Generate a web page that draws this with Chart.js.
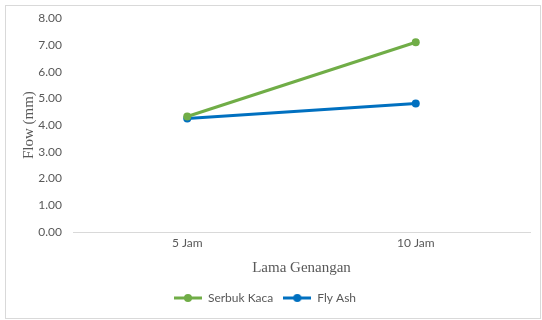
<!DOCTYPE html>
<html>
<head>
<meta charset="utf-8">
<script src="https://cdn.jsdelivr.net/npm/chart.js@4/dist/chart.umd.min.js"></script>
<style>
  html, body { margin: 0; padding: 0; background: #fff; }
  #wrap { width: 542px; height: 320px; }
</style>
</head>
<body>
<div id="wrap"><canvas id="chart" width="542" height="320"></canvas></div>
<script>
var categories = ['5 Jam', '10 Jam'];
var serbukKaca = [4.32, 7.10];
var flyAsh = [4.25, 4.81];
var yTicks = [0, 1, 2, 3, 4, 5, 6, 7, 8];

var GREEN = '#70ad47';
var BLUE = '#0070c0';
var TEXT = '#595959';

// little line-with-dot swatch for the legend
function swatch(color) {
    var c = document.createElement('canvas');
    c.width = 28;
    c.height = 10;
    var g = c.getContext('2d');
    g.strokeStyle = color;
    g.lineWidth = 3;
    g.beginPath();
    g.moveTo(0, 5);
    g.lineTo(28, 5);
    g.stroke();
    g.fillStyle = color;
    g.beginPath();
    g.arc(14, 5, 4, 0, Math.PI * 2);
    g.fill();
    return c;
}

var frame = {
    id: 'frame',
    beforeDraw: function(chart) {
        var ctx = chart.ctx;
        ctx.save();
        ctx.fillStyle = '#fff';
        ctx.fillRect(0, 0, chart.width, chart.height);
        ctx.strokeStyle = '#d9d9d9';
        ctx.lineWidth = 1;
        ctx.strokeRect(5.5, 5.5, 535, 313);
        ctx.restore();
    }
};

var ctx = document.getElementById('chart').getContext('2d');
var myChart = new Chart(ctx, {
    type: 'line',
    data: {
        labels: categories,
        datasets: [
            {
                label: 'Serbuk Kaca',
                data: serbukKaca,
                borderColor: GREEN,
                backgroundColor: GREEN,
                borderWidth: 3,
                pointRadius: 4,
                pointHoverRadius: 4,
                pointBorderWidth: 0,
                pointStyle: 'circle'
            },
            {
                label: 'Fly Ash',
                data: flyAsh,
                borderColor: BLUE,
                backgroundColor: BLUE,
                borderWidth: 3,
                pointRadius: 4,
                pointHoverRadius: 4,
                pointBorderWidth: 0,
                pointStyle: 'circle'
            }
        ]
    },
    options: {
        responsive: false,
        animation: false,
        layout: {
            padding: { left: 0, right: 12, top: 14, bottom: 6 }
        },
        plugins: {
            title: { display: false },
            tooltip: { enabled: false },
            legend: {
                position: 'bottom',
                labels: {
                    usePointStyle: true,
                    pointStyleWidth: 28,
                    boxHeight: 10,
                    padding: 10,
                    color: TEXT,
                    font: { family: 'Lato', size: 12 },
                    generateLabels: function(chart) {
                        return chart.data.datasets.map(function(ds, i) {
                            return {
                                text: ds.label,
                                fillStyle: ds.borderColor,
                                strokeStyle: ds.borderColor,
                                lineWidth: 0,
                                pointStyle: swatch(ds.borderColor),
                                fontColor: TEXT,
                                hidden: false,
                                datasetIndex: i
                            };
                        });
                    }
                }
            }
        },
        scales: {
            x: {
                offset: true,
                grid: { display: false, drawTicks: false },
                border: { display: true, color: '#d9d9d9', width: 1 },
                ticks: {
                    color: TEXT,
                    padding: 4,
                    font: { family: 'Lato', size: 12 }
                },
                title: {
                    display: true,
                    text: 'Lama Genangan',
                    color: TEXT,
                    font: { family: 'Liberation Serif', size: 15 },
                    padding: { top: 2, bottom: 5 }
                },
                afterFit: function(scale) { scale.height = 50; }
            },
            y: {
                min: 0,
                max: 8,
                grid: { display: false, drawTicks: false },
                border: { display: false },
                afterBuildTicks: function(scale) {
                    scale.ticks = yTicks.map(function(v) { return { value: v }; });
                },
                ticks: {
                    color: TEXT,
                    padding: 11,
                    font: { family: 'Lato', size: 12 },
                    callback: function(v) { return Number(v).toFixed(2); }
                },
                title: {
                    display: true,
                    text: 'Flow (mm)',
                    color: TEXT,
                    font: { family: 'Liberation Serif', size: 15 },
                    padding: { top: 20, bottom: 0 }
                },
                afterFit: function(scale) { scale.width = 73; }
            }
        }
    },
    plugins: [frame]
});
</script>
</body>
</html>
